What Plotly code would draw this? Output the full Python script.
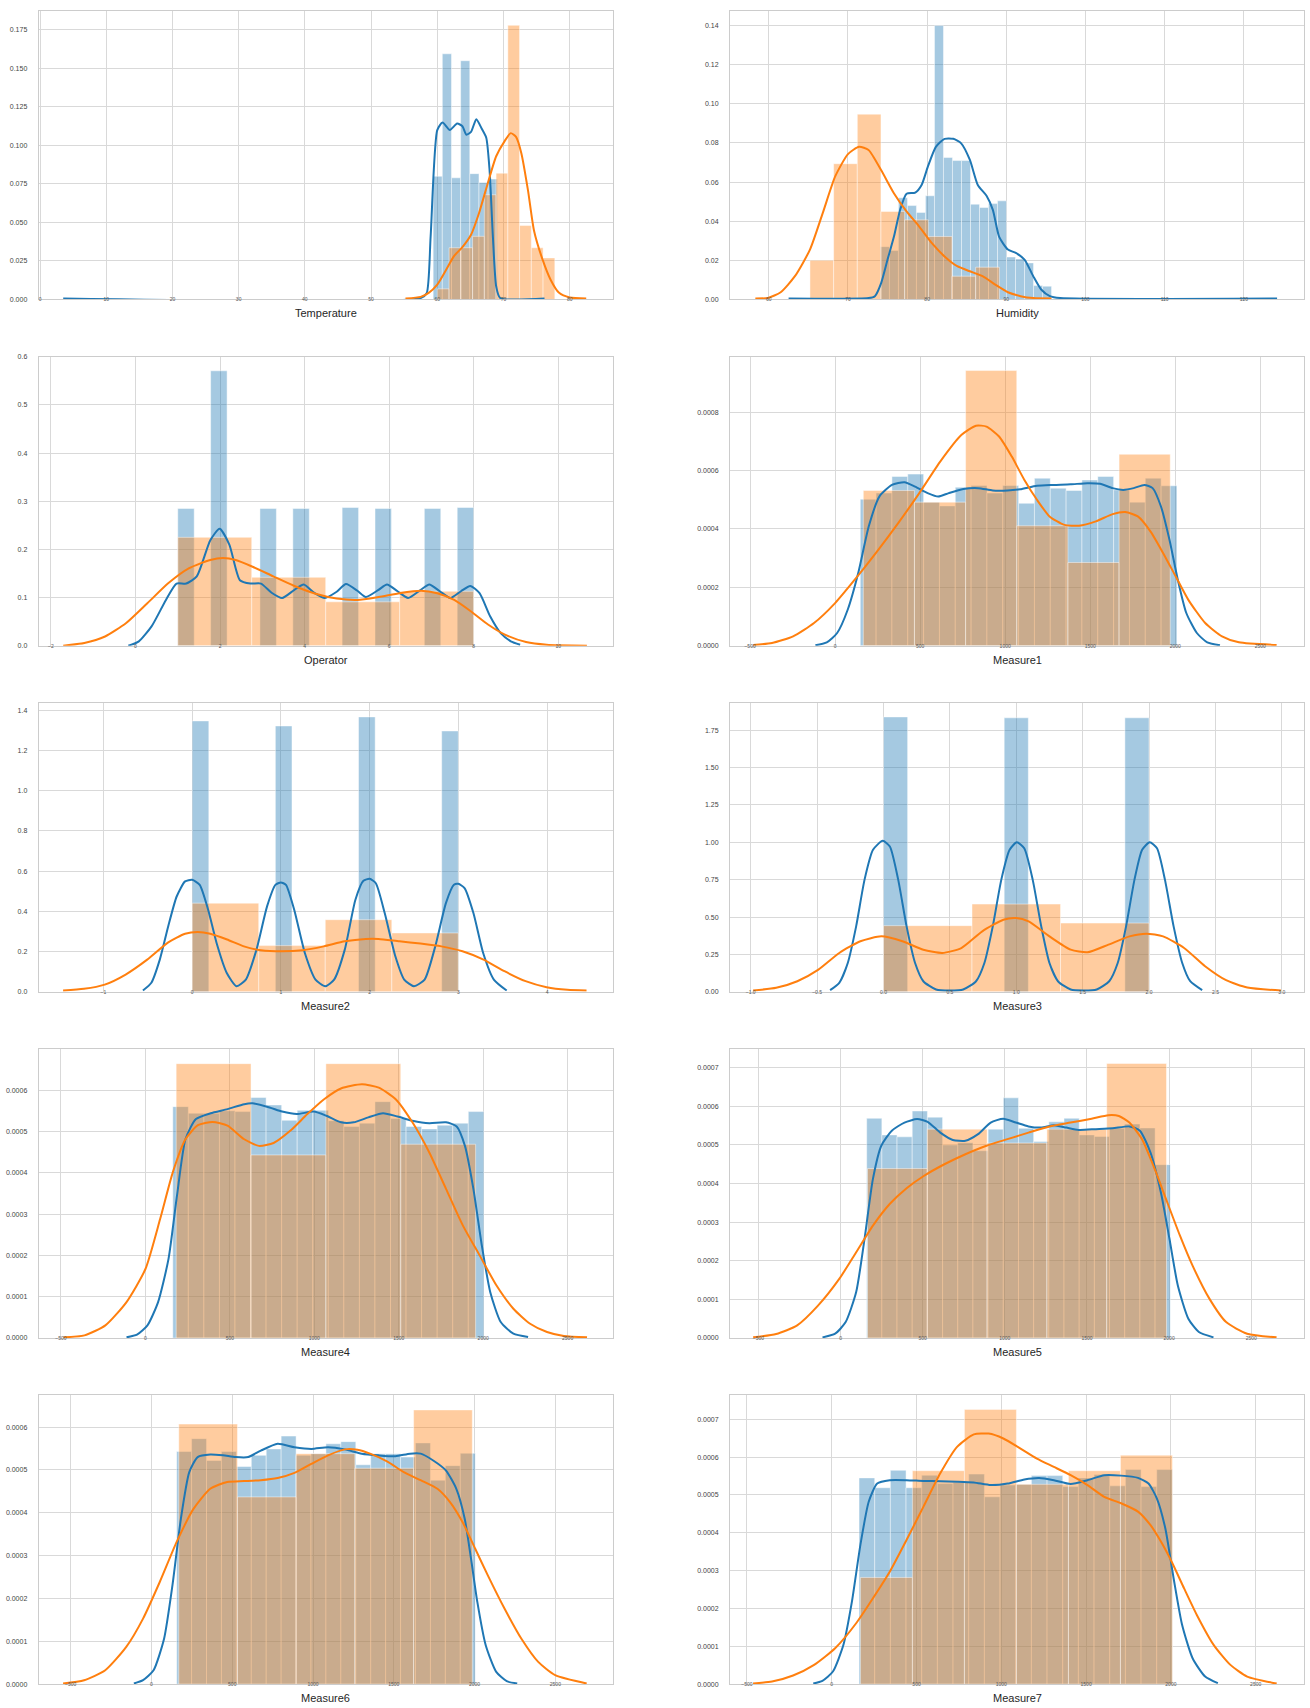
import plotly.graph_objects as go

# ======================= DATA =======================
# ---- Temperature ----
temp_xticks = [0, 10, 20, 30, 40, 50, 60, 70, 80]
temp_yticks = [0.000, 0.025, 0.050, 0.075, 0.100, 0.125, 0.150, 0.175]
temp_blue_start, temp_blue_width = 59.38, 1.384
temp_blue_h = [0.080, 0.1595, 0.079, 0.155, 0.0817, 0.0759, 0.0782]
temp_orange_start, temp_orange_width = 60.01, 1.775
temp_orange_h = [0.0069, 0.0336, 0.0336, 0.041, 0.068, 0.082, 0.178, 0.048, 0.0336, 0.027]
temp_kde_blue_x = [3.5, 57.5, 58.4, 59.0, 60.0, 60.8, 61.9, 63.0, 63.8, 64.4, 65.1, 65.9, 66.7, 67.4, 67.9, 68.4, 68.9, 69.5, 76.2]
temp_kde_blue_y = [0.0006, 0.0009, 0.004, 0.041, 0.110, 0.1149, 0.110, 0.1142, 0.1125, 0.107, 0.1088, 0.117, 0.111, 0.105, 0.084, 0.041, 0.0086, 0.001, 0.0006]
temp_kde_orange_x = [55.2, 57.5, 58.7, 60.0, 61.3, 62.5, 63.8, 65.1, 66.3, 67.6, 68.9, 70.2, 71.1, 71.9, 72.7, 73.7, 74.6, 75.9, 77.1, 78.4, 80.0, 82.5]
temp_kde_orange_y = [0.0006, 0.0017, 0.0043, 0.0097, 0.019, 0.028, 0.034, 0.042, 0.056, 0.075, 0.093, 0.103, 0.108, 0.1056, 0.095, 0.071, 0.045, 0.026, 0.013, 0.0043, 0.0013, 0.0006]

# ---- Humidity ----
hum_xticks = [60, 70, 80, 90, 100, 110, 120]
hum_yticks = [0.00, 0.02, 0.04, 0.06, 0.08, 0.10, 0.12, 0.14]
hum_blue_start, hum_blue_width = 74.1, 1.1376
hum_blue_h = [0.027, 0.025, 0.052, 0.048, 0.0445, 0.053, 0.140, 0.0726, 0.071, 0.071, 0.0487, 0.047, 0.049, 0.0504, 0.0217, 0.0207, 0.0187, 0.0071, 0.0068]
hum_orange_start, hum_orange_width = 65.2, 2.99
hum_orange_h = [0.020, 0.0694, 0.0947, 0.045, 0.0407, 0.0322, 0.0119, 0.0165]
hum_kde_blue_x = [62.5, 72.6, 73.4, 74.2, 75.0, 75.8, 76.6, 77.4, 78.5, 79.3, 80.1, 81.1, 82.2, 83.3, 84.3, 85.4, 86.4, 87.5, 88.3, 89.1, 90.2, 91.2, 92.3, 93.4, 94.4, 95.5, 96.8, 124.2]
hum_kde_blue_y = [0.0005, 0.0007, 0.0017, 0.0085, 0.0204, 0.032, 0.046, 0.054, 0.0546, 0.0585, 0.068, 0.078, 0.0821, 0.0821, 0.0798, 0.0713, 0.0585, 0.053, 0.0458, 0.032, 0.0255, 0.0238, 0.0204, 0.0119, 0.0051, 0.0017, 0.0007, 0.0005]
hum_kde_orange_x = [58.3, 59.9, 61.5, 63.3, 65.2, 66.8, 68.4, 70.0, 71.4, 72.6, 74.2, 75.8, 77.4, 79.0, 80.6, 82.2, 83.8, 85.4, 87.0, 88.6, 90.2, 91.8, 93.4, 95.7]
hum_kde_orange_y = [0.0005, 0.0008, 0.0037, 0.0119, 0.0255, 0.044, 0.063, 0.0743, 0.078, 0.0764, 0.066, 0.0543, 0.045, 0.0373, 0.0288, 0.022, 0.017, 0.0144, 0.0119, 0.0076, 0.0037, 0.0017, 0.0007, 0.0005]

# ---- Operator ----
op_xticks = [-2, 0, 2, 4, 6, 8, 10]
op_yticks = [0.0, 0.1, 0.2, 0.3, 0.4, 0.5, 0.6]
op_blue_start, op_blue_width = 1.0, 0.3889
op_blue_h = [0.285, 0, 0.571, 0, 0, 0.285, 0, 0.285, 0, 0, 0.287, 0, 0.285, 0, 0, 0.285, 0, 0.287]
op_orange_start, op_orange_width = 1.0, 1.75
op_orange_h = [0.225, 0.142, 0.091, 0.113]
op_kde_blue_x = [-0.17, 0.08, 0.38, 0.72, 0.97, 1.2, 1.45, 1.77, 1.99, 2.22, 2.47, 2.72, 2.97, 3.22, 3.47, 3.76, 3.98, 4.24, 4.48, 4.76, 4.98, 5.25, 5.45, 5.75, 5.95, 6.2, 6.45, 6.75, 6.95, 7.2, 7.45, 7.7, 7.92, 8.14, 8.39, 8.64, 8.88, 9.1]
op_kde_blue_y = [0.0, 0.009, 0.04, 0.095, 0.129, 0.129, 0.144, 0.219, 0.243, 0.21, 0.136, 0.129, 0.129, 0.11, 0.099, 0.116, 0.127, 0.109, 0.099, 0.112, 0.128, 0.114, 0.101, 0.116, 0.127, 0.113, 0.099, 0.116, 0.127, 0.113, 0.099, 0.113, 0.124, 0.109, 0.061, 0.026, 0.009, 0.002]
op_kde_orange_x = [-1.71, -1.21, -0.72, -0.22, 0.28, 0.78, 1.27, 1.77, 2.07, 2.37, 2.77, 3.26, 3.76, 4.26, 4.76, 5.25, 5.75, 6.25, 6.75, 7.14, 7.54, 7.94, 8.34, 8.74, 9.24, 9.73, 10.68]
op_kde_orange_y = [0.0, 0.0055, 0.019, 0.047, 0.088, 0.13, 0.161, 0.178, 0.182, 0.178, 0.164, 0.144, 0.124, 0.108, 0.098, 0.095, 0.101, 0.109, 0.114, 0.109, 0.095, 0.071, 0.044, 0.023, 0.0076, 0.002, 0.0]

# ---- Measure1 ----
m1_xticks = [-500, 0, 500, 1000, 1500, 2000, 2500]
m1_yticks = [0.0000, 0.0002, 0.0004, 0.0006, 0.0008]
m1_blue_start, m1_blue_width = 148, 93.1
m1_blue_h = [0.000502, 0.000523, 0.00058, 0.000588, 0.000492, 0.000479, 0.000543, 0.000549, 0.000523, 0.000549, 0.000488, 0.000574, 0.00054, 0.000532, 0.000568, 0.00058, 0.000534, 0.000492, 0.000574, 0.000548]
m1_orange_start, m1_orange_width = 165.7, 300.8
m1_orange_h = [0.000532, 0.000492, 0.000943, 0.000411, 0.000285, 0.000656]
m1_kde_blue_x = [-116, -49, 12, 74, 136, 198, 260, 334, 408, 470, 544, 606, 668, 754, 841, 927, 1014, 1088, 1187, 1286, 1385, 1484, 1558, 1632, 1694, 1756, 1818, 1867, 1916, 1966, 2015, 2065, 2127, 2188, 2263]
m1_kde_blue_y = [0.0000011, 0.0000114, 0.0000434, 0.000123, 0.000249, 0.000409, 0.000511, 0.000551, 0.00056, 0.000545, 0.000523, 0.000511, 0.000523, 0.000537, 0.00054, 0.000532, 0.000532, 0.000536, 0.000548, 0.000551, 0.000553, 0.000557, 0.000555, 0.00054, 0.000534, 0.00054, 0.000551, 0.00054, 0.000477, 0.000363, 0.000226, 0.000112, 0.0000434, 0.0000114, 0.0000011]
m1_kde_orange_x = [-482, -371, -247, -124, 0, 124, 247, 371, 495, 618, 742, 828, 890, 964, 1039, 1113, 1187, 1261, 1348, 1434, 1533, 1632, 1706, 1780, 1855, 1929, 2003, 2077, 2176, 2275, 2374, 2596]
m1_kde_orange_y = [0.0000023, 0.0000091, 0.000032, 0.0000776, 0.000146, 0.000232, 0.000323, 0.00042, 0.000523, 0.000631, 0.000722, 0.000754, 0.000751, 0.000717, 0.000648, 0.000568, 0.0005, 0.000443, 0.000414, 0.000411, 0.000426, 0.000451, 0.000458, 0.000443, 0.000391, 0.000317, 0.000237, 0.000157, 0.0000776, 0.000032, 0.0000114, 0.0000023]

# ---- Measure2 ----
m2_xticks = [-1, 0, 1, 2, 3, 4]
m2_yticks = [0.0, 0.2, 0.4, 0.6, 0.8, 1.0, 1.2, 1.4]
m2_blue_start, m2_blue_width = 0.0, 0.1875
m2_blue_h = [1.347, 0, 0, 0, 0, 1.322, 0, 0, 0, 0, 1.367, 0, 0, 0, 0, 1.297]
m2_orange_start, m2_orange_width = 0.0, 0.75
m2_orange_h = [0.441, 0.2298, 0.3587, 0.2926]
m2_kde_blue_x = [-0.555, -0.46, -0.365, -0.27, -0.175, -0.08, 0.0, 0.085, 0.18, 0.275, 0.39, 0.5, 0.605, 0.725, 0.844, 0.938, 1.0, 1.057, 1.15, 1.27, 1.39, 1.5, 1.6, 1.72, 1.84, 1.93, 2.0, 2.07, 2.17, 2.29, 2.39, 2.5, 2.62, 2.74, 2.86, 2.95, 3.0, 3.07, 3.17, 3.28, 3.4, 3.545]
m2_kde_blue_y = [0.0066, 0.045, 0.16, 0.326, 0.474, 0.549, 0.557, 0.532, 0.408, 0.243, 0.094, 0.028, 0.061, 0.21, 0.425, 0.532, 0.544, 0.532, 0.408, 0.193, 0.061, 0.028, 0.061, 0.21, 0.458, 0.552, 0.562, 0.54, 0.392, 0.177, 0.061, 0.028, 0.061, 0.226, 0.441, 0.532, 0.537, 0.516, 0.392, 0.193, 0.061, 0.0066]
m2_kde_orange_x = [-1.455, -1.22, -0.986, -0.75, -0.507, -0.27, -0.08, 0.062, 0.204, 0.393, 0.583, 0.773, 1.01, 1.246, 1.483, 1.72, 1.957, 2.1, 2.336, 2.573, 2.81, 3.047, 3.284, 3.52, 3.758, 3.995, 4.23, 4.445]
m2_kde_orange_y = [0.0066, 0.015, 0.036, 0.086, 0.16, 0.246, 0.289, 0.2975, 0.289, 0.26, 0.226, 0.207, 0.2017, 0.207, 0.226, 0.251, 0.263, 0.263, 0.251, 0.24, 0.226, 0.2017, 0.16, 0.1025, 0.053, 0.023, 0.0099, 0.0066]

# ---- Measure3 ----
m3_xticks = [-1.0, -0.5, 0.0, 0.5, 1.0, 1.5, 2.0, 2.5, 3.0]
m3_yticks = [0.00, 0.25, 0.50, 0.75, 1.00, 1.25, 1.50, 1.75]
m3_blue_start, m3_blue_width = 0.0, 0.1818
m3_blue_h = [1.839, 0, 0, 0, 0, 1.833, 0, 0, 0, 0, 1.833]
m3_orange_start, m3_orange_width = 0.0, 0.6667
m3_orange_h = [0.4427, 0.587, 0.46]
m3_kde_blue_x = [-0.402, -0.333, -0.269, -0.206, -0.143, -0.079, -0.006, 0.048, 0.111, 0.174, 0.238, 0.3, 0.396, 0.5, 0.6, 0.697, 0.76, 0.823, 0.887, 0.95, 1.004, 1.06, 1.124, 1.188, 1.25, 1.314, 1.41, 1.504, 1.606, 1.7, 1.764, 1.827, 1.89, 1.948, 2.005, 2.06, 2.12, 2.185, 2.25, 2.31, 2.4]
m3_kde_blue_y = [0.011, 0.06, 0.193, 0.438, 0.749, 0.95, 1.01, 0.972, 0.749, 0.438, 0.193, 0.071, 0.0156, 0.009, 0.0156, 0.071, 0.193, 0.438, 0.749, 0.95, 1.0, 0.96, 0.749, 0.438, 0.193, 0.071, 0.0156, 0.009, 0.0156, 0.071, 0.193, 0.438, 0.749, 0.95, 1.0, 0.96, 0.749, 0.438, 0.193, 0.071, 0.011]
m3_kde_orange_x = [-0.982, -0.808, -0.649, -0.49, -0.333, -0.174, -0.016, 0.143, 0.3, 0.443, 0.586, 0.744, 0.903, 0.998, 1.093, 1.25, 1.41, 1.536, 1.694, 1.853, 1.98, 2.106, 2.264, 2.422, 2.58, 2.74, 2.993]
m3_kde_orange_y = [0.009, 0.027, 0.071, 0.149, 0.26, 0.338, 0.371, 0.338, 0.282, 0.26, 0.293, 0.405, 0.4826, 0.4937, 0.471, 0.371, 0.282, 0.2646, 0.3158, 0.371, 0.389, 0.371, 0.2935, 0.171, 0.0778, 0.029, 0.009]

# ---- Measure4 ----
m4_xticks = [-500, 0, 500, 1000, 1500, 2000, 2500]
m4_yticks = [0.0000, 0.0001, 0.0002, 0.0003, 0.0004, 0.0005, 0.0006]
m4_blue_start, m4_blue_width = 162, 92.1
m4_blue_h = [0.00056, 0.000544, 0.000544, 0.00055, 0.000548, 0.000582, 0.000564, 0.000527, 0.000551, 0.000551, 0.000526, 0.000512, 0.00052, 0.000572, 0.000531, 0.000512, 0.000506, 0.000515, 0.00052, 0.000548]
m4_orange_start, m4_orange_width = 182, 443.3
m4_orange_h = [0.000664, 0.000443, 0.000664, 0.000469]
m4_kde_blue_x = [-112, -50, 12, 75, 137, 187, 237, 299, 386, 486, 585, 635, 735, 809, 896, 996, 1071, 1158, 1233, 1320, 1407, 1494, 1581, 1681, 1780, 1843, 1892, 1942, 1992, 2042, 2104, 2179, 2266]
m4_kde_blue_y = [0.0000016, 0.000008, 0.0000306, 0.000087, 0.000192, 0.000345, 0.000481, 0.00053, 0.000544, 0.000554, 0.000566, 0.000568, 0.000558, 0.000548, 0.000542, 0.000548, 0.000538, 0.000522, 0.000522, 0.000534, 0.000544, 0.000536, 0.000526, 0.00052, 0.000522, 0.000512, 0.000465, 0.000361, 0.000224, 0.000111, 0.0000386, 0.0000105, 0.0000024]
m4_kde_orange_x = [-486, -361, -237, -112, 0, 87, 162, 237, 311, 398, 486, 585, 672, 759, 859, 959, 1058, 1158, 1282, 1382, 1482, 1581, 1681, 1780, 1880, 1979, 2079, 2179, 2278, 2378, 2478, 2615]
m4_kde_orange_y = [0.0000016, 0.0000064, 0.0000306, 0.000087, 0.000167, 0.000288, 0.000401, 0.000481, 0.000515, 0.000523, 0.000514, 0.000481, 0.000465, 0.000472, 0.000502, 0.000542, 0.000578, 0.000604, 0.000614, 0.000606, 0.000578, 0.000522, 0.000449, 0.000361, 0.000272, 0.0002, 0.000127, 0.0000709, 0.0000346, 0.0000145, 0.0000048, 0.0000016]

# ---- Measure5 ----
m5_xticks = [-500, 0, 500, 1000, 1500, 2000, 2500]
m5_yticks = [0.0000, 0.0001, 0.0002, 0.0003, 0.0004, 0.0005, 0.0006, 0.0007]
m5_blue_start, m5_blue_width = 159, 92.4
m5_blue_h = [0.000569, 0.000526, 0.000521, 0.000588, 0.000572, 0.0005, 0.000506, 0.000485, 0.000541, 0.000622, 0.000543, 0.000509, 0.00056, 0.000569, 0.000526, 0.000522, 0.000543, 0.000554, 0.000544, 0.000449]
m5_orange_start, m5_orange_width = 164, 364
m5_orange_h = [0.000439, 0.000541, 0.000505, 0.000541, 0.000711]
m5_kde_blue_x = [-110, -33, 31, 95, 146, 197, 248, 312, 389, 466, 530, 607, 683, 760, 837, 914, 990, 1067, 1144, 1221, 1298, 1374, 1451, 1554, 1656, 1758, 1822, 1886, 1950, 2002, 2053, 2117, 2181, 2270]
m5_kde_blue_y = [0.0000017, 0.0000112, 0.0000413, 0.000119, 0.000257, 0.000412, 0.000498, 0.000537, 0.000558, 0.000567, 0.00056, 0.000532, 0.000513, 0.000511, 0.000528, 0.000558, 0.000568, 0.000558, 0.000548, 0.000545, 0.000551, 0.000545, 0.000539, 0.000541, 0.000543, 0.000548, 0.000537, 0.000481, 0.000377, 0.000257, 0.000136, 0.00005, 0.0000155, 0.0000017]
m5_kde_orange_x = [-532, -392, -264, -136, -8, 95, 197, 299, 402, 504, 632, 760, 888, 1016, 1144, 1272, 1400, 1528, 1630, 1694, 1758, 1835, 1912, 1989, 2066, 2142, 2245, 2347, 2475, 2654]
m5_kde_orange_y = [0.0000017, 0.0000103, 0.0000327, 0.0000844, 0.000153, 0.000222, 0.000291, 0.000347, 0.000388, 0.000419, 0.00045, 0.000476, 0.000498, 0.000515, 0.000532, 0.000548, 0.000558, 0.000568, 0.000577, 0.000575, 0.000558, 0.000515, 0.000438, 0.000351, 0.000265, 0.000188, 0.000102, 0.0000413, 0.0000112, 0.0000017]

# ---- Measure6 ----
m6_xticks = [-500, 0, 500, 1000, 1500, 2000, 2500]
m6_yticks = [0.0000, 0.0001, 0.0002, 0.0003, 0.0004, 0.0005, 0.0006]
m6_blue_start, m6_blue_width = 156, 92.4
m6_blue_h = [0.000543, 0.000573, 0.000522, 0.000543, 0.000508, 0.000534, 0.000549, 0.000579, 0.000534, 0.000538, 0.000561, 0.000566, 0.000512, 0.000538, 0.000538, 0.00053, 0.000563, 0.000476, 0.00051, 0.000539]
m6_orange_start, m6_orange_width = 169, 363.4
m6_orange_h = [0.000607, 0.000437, 0.000538, 0.000504, 0.00064]
m6_kde_blue_x = [-109, -52, 13, 78, 130, 182, 234, 286, 364, 443, 521, 599, 677, 781, 885, 989, 1093, 1197, 1301, 1406, 1510, 1601, 1666, 1744, 1822, 1887, 1939, 1978, 2017, 2069, 2134, 2199, 2264]
m6_kde_blue_y = [0.0000016, 0.0000093, 0.0000326, 0.000106, 0.000231, 0.000386, 0.000495, 0.00053, 0.000536, 0.000534, 0.00053, 0.00053, 0.000545, 0.000561, 0.000553, 0.000549, 0.000553, 0.000548, 0.000538, 0.000534, 0.000532, 0.000538, 0.000538, 0.000522, 0.000499, 0.000456, 0.000386, 0.000293, 0.000192, 0.0000909, 0.0000287, 0.000007, 0.0000016]
m6_kde_orange_x = [-547, -417, -286, -156, -52, 52, 156, 260, 364, 469, 573, 677, 781, 885, 989, 1093, 1197, 1275, 1353, 1458, 1562, 1666, 1770, 1848, 1926, 2004, 2082, 2186, 2290, 2394, 2499, 2694]
m6_kde_orange_y = [0.0000016, 0.0000093, 0.0000326, 0.000087, 0.000153, 0.000239, 0.000332, 0.000409, 0.000456, 0.000472, 0.000474, 0.000476, 0.000481, 0.000493, 0.000514, 0.000534, 0.000548, 0.000547, 0.000538, 0.00052, 0.000495, 0.000476, 0.000456, 0.000425, 0.000378, 0.000316, 0.000254, 0.000176, 0.000106, 0.000052, 0.000021, 0.0000016]

# ---- Measure7 ----
m7_xticks = [-500, 0, 500, 1000, 1500, 2000, 2500]
m7_yticks = [0.0000, 0.0001, 0.0002, 0.0003, 0.0004, 0.0005, 0.0006, 0.0007]
m7_blue_start, m7_blue_width = 161, 92.4
m7_blue_h = [0.000545, 0.000519, 0.000565, 0.000519, 0.000552, 0.00053, 0.000533, 0.000555, 0.000495, 0.000526, 0.000528, 0.000551, 0.000551, 0.000522, 0.000545, 0.000554, 0.000524, 0.000567, 0.000522, 0.000567]
m7_orange_start, m7_orange_width = 169, 306.7
m7_orange_h = [0.000282, 0.000564, 0.000726, 0.000528, 0.000564, 0.000605]
m7_kde_blue_x = [-109, -55, 7, 69, 119, 169, 218, 268, 342, 441, 541, 640, 739, 838, 938, 1037, 1136, 1223, 1310, 1409, 1508, 1607, 1706, 1806, 1868, 1917, 1967, 2016, 2066, 2128, 2202, 2277]
m7_kde_blue_y = [0.0000018, 0.0000088, 0.0000334, 0.000104, 0.000218, 0.000368, 0.000482, 0.00053, 0.000539, 0.000539, 0.000537, 0.000536, 0.000535, 0.000533, 0.000526, 0.00053, 0.000541, 0.000545, 0.000539, 0.000529, 0.000539, 0.000552, 0.000551, 0.000545, 0.00053, 0.000491, 0.000412, 0.00028, 0.000157, 0.0000686, 0.0000202, 0.0000026]
m7_kde_orange_x = [-464, -352, -228, -104, 20, 144, 243, 342, 441, 541, 640, 739, 838, 925, 1012, 1111, 1210, 1310, 1409, 1508, 1607, 1706, 1806, 1880, 1942, 2004, 2078, 2153, 2252, 2351, 2450, 2624]
m7_kde_orange_y = [0.0000018, 0.000007, 0.0000229, 0.000051, 0.000095, 0.000161, 0.000227, 0.000297, 0.000381, 0.000469, 0.000557, 0.000627, 0.00066, 0.000662, 0.000649, 0.000623, 0.000596, 0.000574, 0.000552, 0.000526, 0.000495, 0.000478, 0.000456, 0.00042, 0.000376, 0.000324, 0.000253, 0.000183, 0.000104, 0.000051, 0.0000202, 0.0000018]

# ======================= PANEL TABLE =======================
panels = [
    dict(title="Temperature", xt=temp_xticks, yt=temp_yticks, xr=[-0.2, 86.5], yr=[0, 0.1875], yf=".3f", xf="d",
         bs=temp_blue_start, bw=temp_blue_width, bh=temp_blue_h, os=temp_orange_start, ow=temp_orange_width, oh=temp_orange_h,
         kbx=temp_kde_blue_x, kby=temp_kde_blue_y, kox=temp_kde_orange_x, koy=temp_kde_orange_y),
    dict(title="Humidity", xt=hum_xticks, yt=hum_yticks, xr=[55.1, 127.6], yr=[0, 0.1476], yf=".2f", xf="d",
         bs=hum_blue_start, bw=hum_blue_width, bh=hum_blue_h, os=hum_orange_start, ow=hum_orange_width, oh=hum_orange_h,
         kbx=hum_kde_blue_x, kby=hum_kde_blue_y, kox=hum_kde_orange_x, koy=hum_kde_orange_y),
    dict(title="Operator", xt=op_xticks, yt=op_yticks, xr=[-2.29, 11.29], yr=[0, 0.6], yf=".1f", xf="d",
         bs=op_blue_start, bw=op_blue_width, bh=op_blue_h, os=op_orange_start, ow=op_orange_width, oh=op_orange_h,
         kbx=op_kde_blue_x, kby=op_kde_blue_y, kox=op_kde_orange_x, koy=op_kde_orange_y),
    dict(title="Measure1", xt=m1_xticks, yt=m1_yticks, xr=[-618, 2757], yr=[0, 0.00099], yf=".4f", xf="d",
         bs=m1_blue_start, bw=m1_blue_width, bh=m1_blue_h, os=m1_orange_start, ow=m1_orange_width, oh=m1_orange_h,
         kbx=m1_kde_blue_x, kby=m1_kde_blue_y, kox=m1_kde_orange_x, koy=m1_kde_orange_y),
    dict(title="Measure2", xt=m2_xticks, yt=m2_yticks, xr=[-1.73, 4.74], yr=[0, 1.436], yf=".1f", xf="d",
         bs=m2_blue_start, bw=m2_blue_width, bh=m2_blue_h, os=m2_orange_start, ow=m2_orange_width, oh=m2_orange_h,
         kbx=m2_kde_blue_x, kby=m2_kde_blue_y, kox=m2_kde_orange_x, koy=m2_kde_orange_y),
    dict(title="Measure3", xt=m3_xticks, yt=m3_yticks, xr=[-1.156, 3.167], yr=[0, 1.932], yf=".2f", xf=".1f",
         bs=m3_blue_start, bw=m3_blue_width, bh=m3_blue_h, os=m3_orange_start, ow=m3_orange_width, oh=m3_orange_h,
         kbx=m3_kde_blue_x, kby=m3_kde_blue_y, kox=m3_kde_orange_x, koy=m3_kde_orange_y),
    dict(title="Measure4", xt=m4_xticks, yt=m4_yticks, xr=[-632, 2767], yr=[0, 0.000699], yf=".4f", xf="d",
         bs=m4_blue_start, bw=m4_blue_width, bh=m4_blue_h, os=m4_orange_start, ow=m4_orange_width, oh=m4_orange_h,
         kbx=m4_kde_blue_x, kby=m4_kde_blue_y, kox=m4_kde_orange_x, koy=m4_kde_orange_y),
    dict(title="Measure5", xt=m5_xticks, yt=m5_yticks, xr=[-673, 2821], yr=[0, 0.000748], yf=".4f", xf="d",
         bs=m5_blue_start, bw=m5_blue_width, bh=m5_blue_h, os=m5_orange_start, ow=m5_orange_width, oh=m5_orange_h,
         kbx=m5_kde_blue_x, kby=m5_kde_blue_y, kox=m5_kde_orange_x, koy=m5_kde_orange_y),
    dict(title="Measure6", xt=m6_xticks, yt=m6_yticks, xr=[-698, 2855], yr=[0, 0.000674], yf=".4f", xf="d",
         bs=m6_blue_start, bw=m6_blue_width, bh=m6_blue_h, os=m6_orange_start, ow=m6_orange_width, oh=m6_orange_h,
         kbx=m6_kde_blue_x, kby=m6_kde_blue_y, kox=m6_kde_orange_x, koy=m6_kde_orange_y),
    dict(title="Measure7", xt=m7_xticks, yt=m7_yticks, xr=[-600, 2785], yr=[0, 0.000763], yf=".4f", xf="d",
         bs=m7_blue_start, bw=m7_blue_width, bh=m7_blue_h, os=m7_orange_start, ow=m7_orange_width, oh=m7_orange_h,
         kbx=m7_kde_blue_x, kby=m7_kde_blue_y, kox=m7_kde_orange_x, koy=m7_kde_orange_y),
]

# ======================= FIGURE =======================
W, H = 1310, 1708
BLUE = "#1f77b4"
ORANGE = "#ff7f0e"
BLUE_FILL = "rgba(31,119,180,0.4)"
ORANGE_FILL = "rgba(255,127,14,0.4)"
EDGE = "rgba(255,255,255,0.45)"
GRID = "#d9d9d9"
FRAME = "#cccccc"

col_px = [(38.7, 612.7), (730.0, 1304.0)]
row_top0, row_pitch, row_h = 6.7, 347.6, 290.0

fig = go.Figure()
layout_axes = {}
annotations = []

for i, p in enumerate(panels):
    r, c = divmod(i, 2)
    n = i + 1
    xa = "x" if n == 1 else f"x{n}"
    ya = "y" if n == 1 else f"y{n}"
    xkey = "xaxis" if n == 1 else f"xaxis{n}"
    ykey = "yaxis" if n == 1 else f"yaxis{n}"

    x0p, x1p = col_px[c]
    top = row_top0 + r * row_pitch
    bot = top + row_h
    xdom = [x0p / W, x1p / W]
    ydom = [1 - bot / H, 1 - top / H]

    bcent = [p["bs"] + (k + 0.5) * p["bw"] for k in range(len(p["bh"]))]
    ocent = [p["os"] + (k + 0.5) * p["ow"] for k in range(len(p["oh"]))]

    fig.add_trace(go.Bar(x=bcent, y=p["bh"], width=[p["bw"]] * len(bcent), xaxis=xa, yaxis=ya,
                         marker=dict(color=BLUE_FILL, line=dict(color=EDGE, width=1)), hoverinfo="skip"))
    fig.add_trace(go.Bar(x=ocent, y=p["oh"], width=[p["ow"]] * len(ocent), xaxis=xa, yaxis=ya,
                         marker=dict(color=ORANGE_FILL, line=dict(color=EDGE, width=1)), hoverinfo="skip"))
    fig.add_trace(go.Scatter(x=p["kbx"], y=p["kby"], mode="lines", xaxis=xa, yaxis=ya,
                             line=dict(color=BLUE, width=2, shape="spline", smoothing=0.6), hoverinfo="skip"))
    fig.add_trace(go.Scatter(x=p["kox"], y=p["koy"], mode="lines", xaxis=xa, yaxis=ya,
                             line=dict(color=ORANGE, width=2, shape="spline", smoothing=0.6), hoverinfo="skip"))

    layout_axes[xkey] = dict(domain=xdom, anchor=ya, range=p["xr"], tickvals=p["xt"], tickformat=p["xf"],
                             showgrid=True, gridcolor=GRID, gridwidth=1, zeroline=False,
                             showline=True, linecolor=FRAME, linewidth=1, mirror=True, ticks="",
                             tickfont=dict(family="Liberation Sans, Arial, sans-serif", size=5, color="#555555"),
                             ticklabelstandoff=-5)
    layout_axes[ykey] = dict(domain=ydom, anchor=xa, range=p["yr"], tickvals=p["yt"], tickformat=p["yf"],
                             showgrid=True, gridcolor=GRID, gridwidth=1, zeroline=False,
                             showline=True, linecolor=FRAME, linewidth=1, mirror=True, ticks="",
                             tickfont=dict(family="Liberation Sans, Arial, sans-serif", size=7, color="#444444"),
                             ticklabelstandoff=9)
    annotations.append(dict(text=p["title"], xref="paper", yref="paper",
                            x=(x0p + x1p) / 2 / W, y=1 - (bot + 14) / H, xanchor="center", yanchor="middle",
                            showarrow=False,
                            font=dict(family="Liberation Sans, Arial, sans-serif", size=11, color="#262626")))

fig.update_layout(
    width=W, height=H, autosize=False,
    margin=dict(l=0, r=0, t=0, b=0),
    paper_bgcolor="white", plot_bgcolor="white",
    barmode="overlay", bargap=0, showlegend=False,
    hovermode=False,
    annotations=annotations,
    **layout_axes,
)

fig.write_html("out.html",
               config={"displayModeBar": False, "staticPlot": True},
               post_script="document.body.style.margin='0';document.body.style.overflow='hidden';")
